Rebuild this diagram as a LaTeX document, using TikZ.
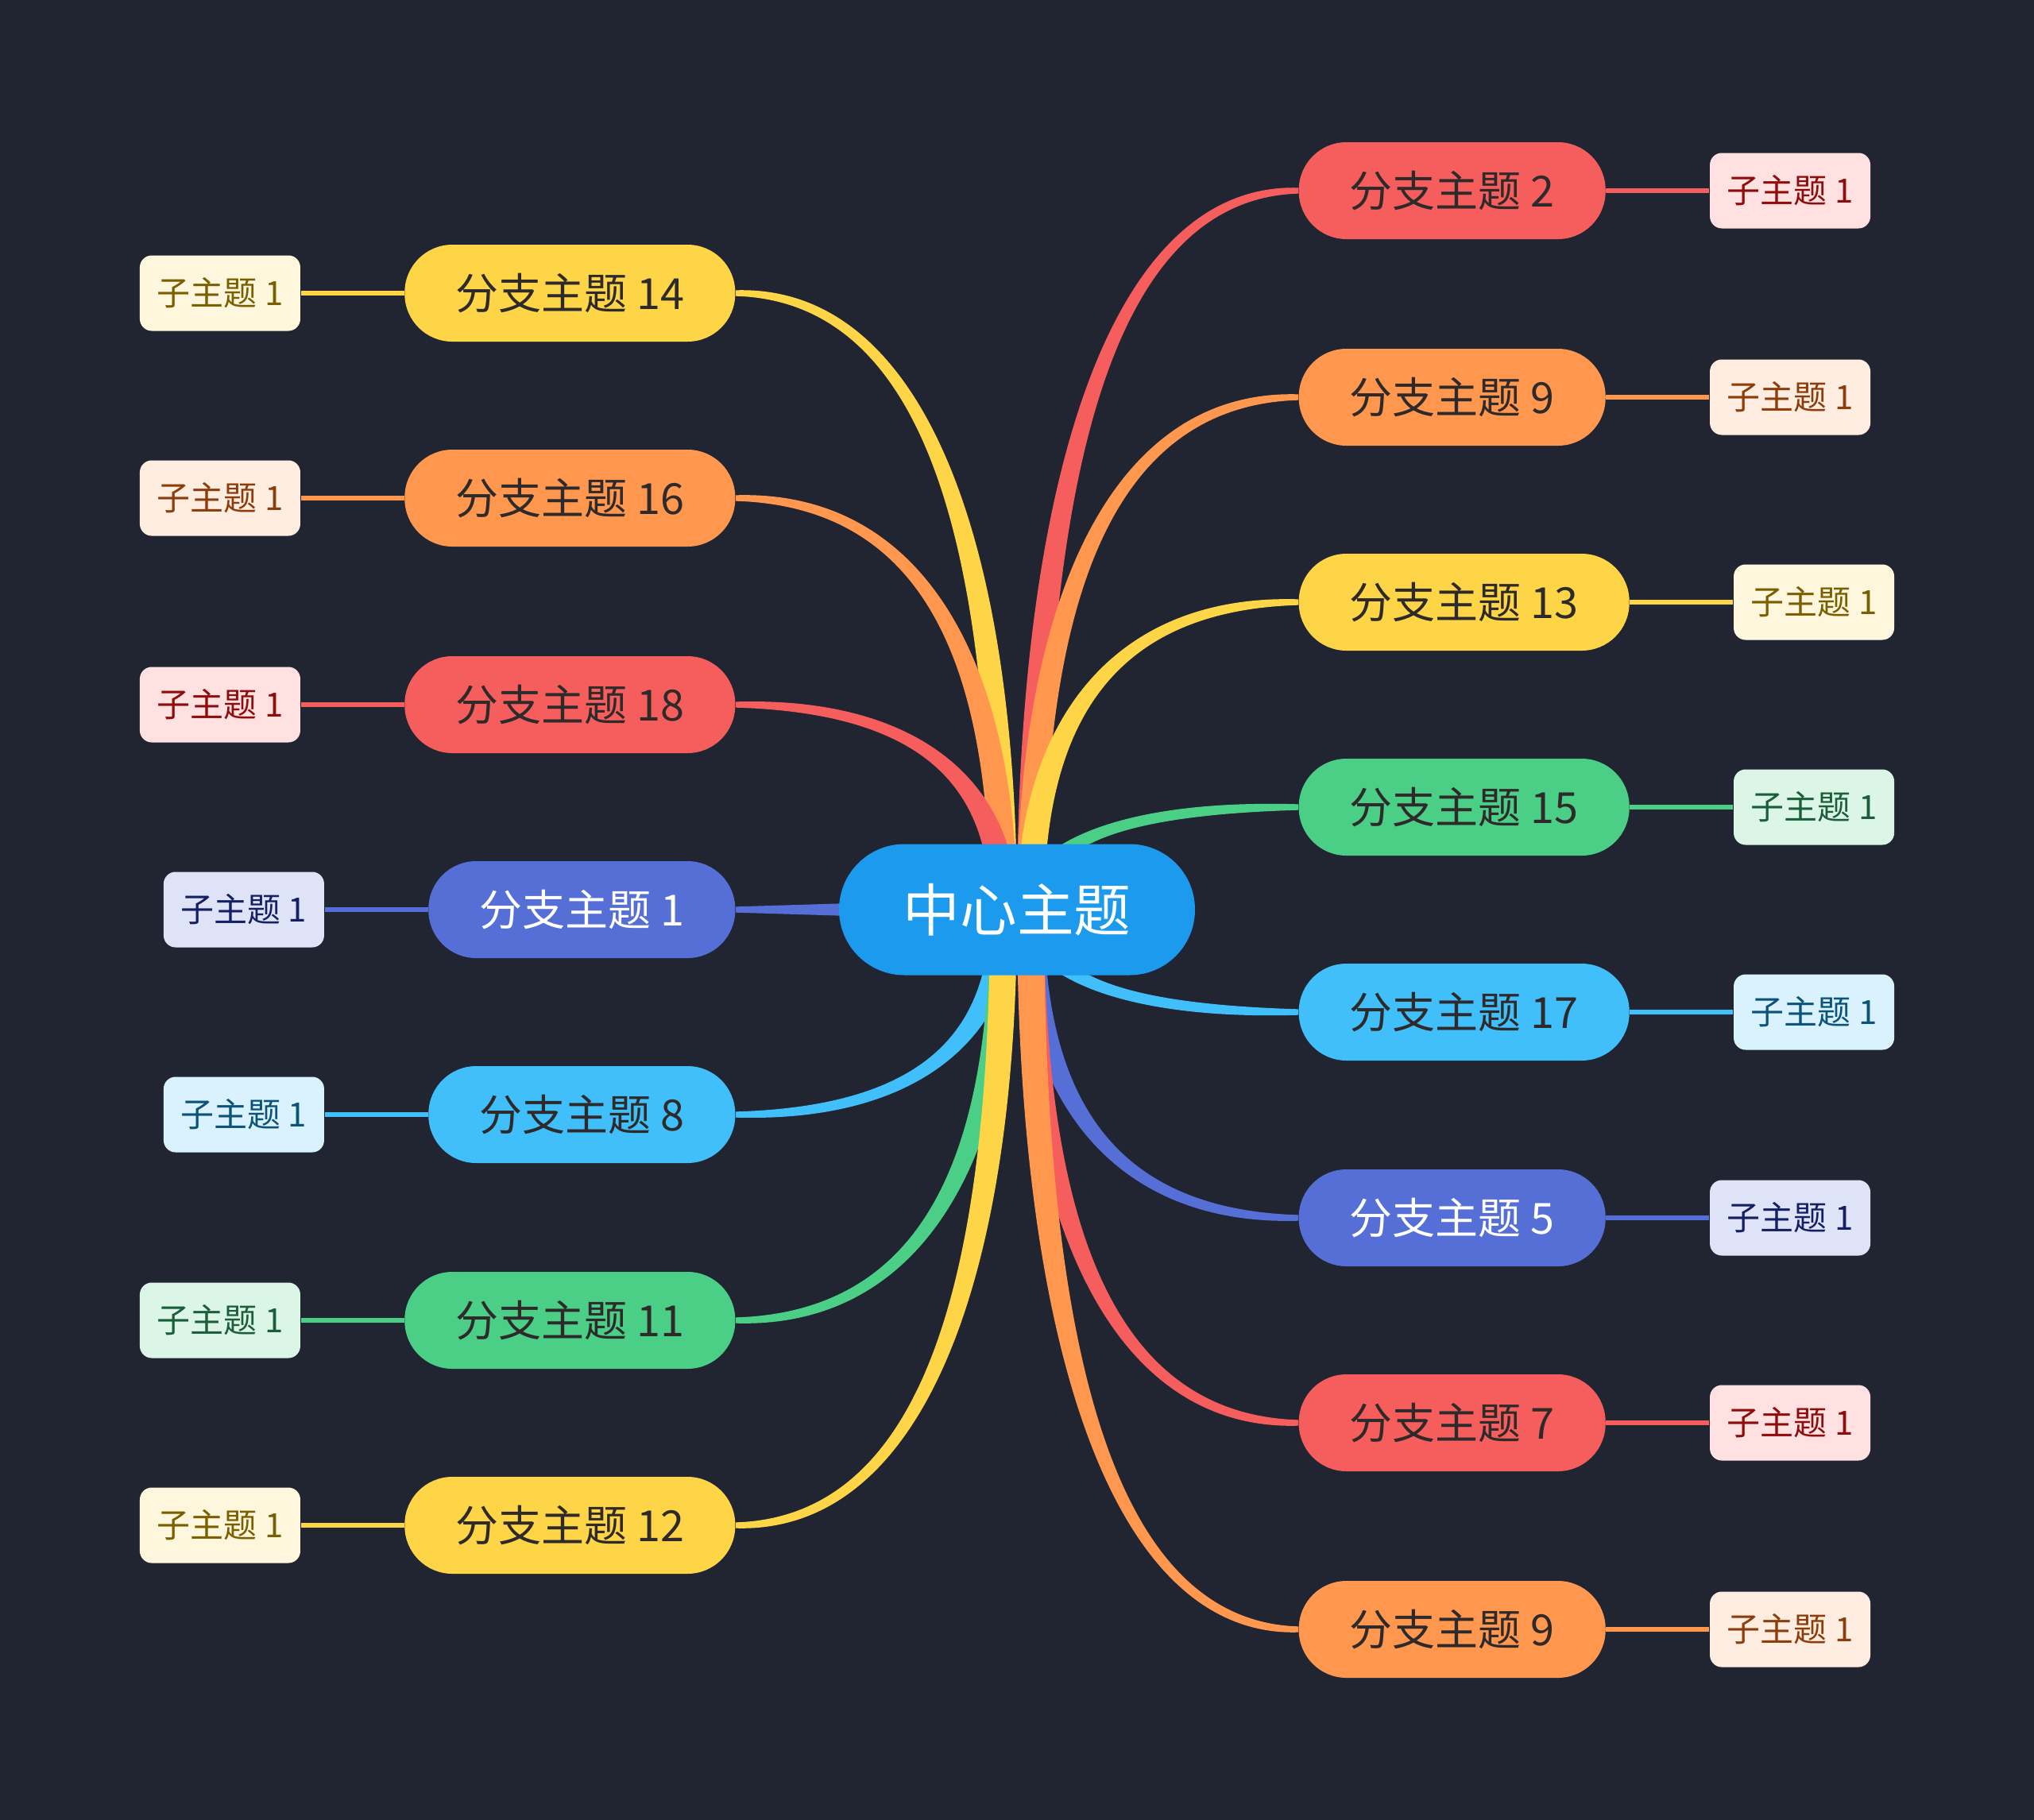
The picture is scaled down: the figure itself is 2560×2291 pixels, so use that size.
\documentclass[tikz,border=0pt]{standalone}
\usepackage{fontspec}
\newfontfamily\cjk{Noto Sans CJK SC}
\usetikzlibrary{calc}
\pgfdeclarelayer{bgl}
\pgfdeclarelayer{links}
\pgfsetlayers{bgl,links,main}
\definecolor{bg}{HTML}{212531}
\definecolor{cred}{HTML}{F65E5E}
\definecolor{corange}{HTML}{FF974F}
\definecolor{cyellow}{HTML}{FFD548}
\definecolor{cgreen}{HTML}{4BCF87}
\definecolor{cblue}{HTML}{40BFFB}
\definecolor{cindigo}{HTML}{566FD6}
\definecolor{ccenter}{HTML}{1B9AEE}
\definecolor{lred}{HTML}{FFE1E1}\definecolor{tred}{HTML}{8E0C0C}
\definecolor{lorange}{HTML}{FFEDE1}\definecolor{torange}{HTML}{8C3D0A}
\definecolor{lyellow}{HTML}{FFF7DD}\definecolor{tyellow}{HTML}{7A5F00}
\definecolor{lgreen}{HTML}{DBF5E7}\definecolor{tgreen}{HTML}{1B5E3A}
\definecolor{lblue}{HTML}{D9F2FE}\definecolor{tblue}{HTML}{0B5378}
\definecolor{lindigo}{HTML}{DFE3F7}\definecolor{tindigo}{HTML}{142065}
\definecolor{darktext}{HTML}{2E2A2A}
% #1 start, #2 end, #3 colour, #4 outer x offset, #5 outer y offset at end, #6 outer y offset at 2nd control
\newcommand\ribbon[6]{%
\fill[#3] ($(#1)+(#4,0)$) .. controls ($(#1)!0.6!(#1|-#2)+(#4,0)$) and ($(#1|-#2)!0.3!(#2)+(0,#6)$) .. ($(#2)+(0,#5)$)
 -- ($(#2)-(0,#5)$) .. controls ($(#1|-#2)!0.3!(#2)-(0,#6)$) and ($(#1)!0.6!(#1|-#2)-(#4,0)$) .. ($(#1)-(#4,0)$) -- cycle;}
\begin{document}
\begin{tikzpicture}[x=0.3pt,y=-0.3pt,
  branch/.style={rounded corners=18pt, minimum height=36.6pt, inner xsep=19.2pt, inner ysep=0pt,
    font=\cjk\fontsize{16.2pt}{19pt}\selectfont, text=darktext},
  sub/.style={rounded corners=4.5pt, minimum width=60.6pt, minimum height=28.5pt, inner sep=0pt,
    font=\cjk\fontsize{12.6pt}{15pt}\selectfont},
  link/.style={line width=1.8pt}]
\begin{pgfonlayer}{bgl}
\fill[bg] (0,0) rectangle (2560,2291);
\end{pgfonlayer}
\useasboundingbox (0,0) rectangle (2560,2291);

% centre
\node[fill=ccenter, rounded corners=24.7pt, minimum width=134.4pt, minimum height=49.5pt, inner sep=0pt,
  font=\cjk\fontsize{21.5pt}{25pt}\selectfont, text=white] (c) at (1280,1145) {中心主题};
\coordinate (sR) at ($(c.center)+(17,0)$);
\coordinate (sL) at ($(c.center)-(17,0)$);

% right branches
\node[branch, fill=cred, anchor=west] (r1) at (1634,240) {分支主题 2};
\node[branch, fill=corange, anchor=west] (r2) at (1634,500) {分支主题 9};
\node[branch, fill=cyellow, anchor=west] (r3) at (1634,758) {分支主题 13};
\node[branch, fill=cgreen, anchor=west] (r4) at (1634,1016) {分支主题 15};
\node[branch, fill=cblue, anchor=west] (r5) at (1634,1274) {分支主题 17};
\node[branch, fill=cindigo, text=white, anchor=west] (r6) at (1634,1533) {分支主题 5};
\node[branch, fill=cred, anchor=west] (r7) at (1634,1791) {分支主题 7};
\node[branch, fill=corange, anchor=west] (r8) at (1634,2051) {分支主题 9};

% left branches
\node[branch, fill=cyellow, anchor=east] (l1) at (926,369) {分支主题 14};
\node[branch, fill=corange, anchor=east] (l2) at (926,627) {分支主题 16};
\node[branch, fill=cred, anchor=east] (l3) at (926,887) {分支主题 18};
\node[branch, fill=cindigo, text=white, anchor=east] (l4) at (926,1145) {分支主题 1};
\node[branch, fill=cblue, anchor=east] (l5) at (926,1403) {分支主题 8};
\node[branch, fill=cgreen, anchor=east] (l6) at (926,1662) {分支主题 11};
\node[branch, fill=cyellow, anchor=east] (l7) at (926,1920) {分支主题 12};

% children right
\node[sub, fill=lred, text=tred, anchor=west] (r1c) at ($(r1.east)+(130,0)$) {子主题 1};
\node[sub, fill=lorange, text=torange, anchor=west] (r2c) at ($(r2.east)+(130,0)$) {子主题 1};
\node[sub, fill=lyellow, text=tyellow, anchor=west] (r3c) at ($(r3.east)+(130,0)$) {子主题 1};
\node[sub, fill=lgreen, text=tgreen, anchor=west] (r4c) at ($(r4.east)+(130,0)$) {子主题 1};
\node[sub, fill=lblue, text=tblue, anchor=west] (r5c) at ($(r5.east)+(130,0)$) {子主题 1};
\node[sub, fill=lindigo, text=tindigo, anchor=west] (r6c) at ($(r6.east)+(130,0)$) {子主题 1};
\node[sub, fill=lred, text=tred, anchor=west] (r7c) at ($(r7.east)+(130,0)$) {子主题 1};
\node[sub, fill=lorange, text=torange, anchor=west] (r8c) at ($(r8.east)+(130,0)$) {子主题 1};
% children left
\node[sub, fill=lyellow, text=tyellow, anchor=east] (l1c) at ($(l1.west)-(130,0)$) {子主题 1};
\node[sub, fill=lorange, text=torange, anchor=east] (l2c) at ($(l2.west)-(130,0)$) {子主题 1};
\node[sub, fill=lred, text=tred, anchor=east] (l3c) at ($(l3.west)-(130,0)$) {子主题 1};
\node[sub, fill=lindigo, text=tindigo, anchor=east] (l4c) at ($(l4.west)-(130,0)$) {子主题 1};
\node[sub, fill=lblue, text=tblue, anchor=east] (l5c) at ($(l5.west)-(130,0)$) {子主题 1};
\node[sub, fill=lgreen, text=tgreen, anchor=east] (l6c) at ($(l6.west)-(130,0)$) {子主题 1};
\node[sub, fill=lyellow, text=tyellow, anchor=east] (l7c) at ($(l7.west)-(130,0)$) {子主题 1};

% connectors (behind nodes)
\begin{pgfonlayer}{links}
% right: up
\ribbon{sR}{r1.west}{cred}{-5.1pt}{1.1pt}{3.2pt}
\ribbon{sR}{r2.west}{corange}{-5.1pt}{1.1pt}{3.2pt}
\ribbon{sR}{r3.west}{cyellow}{-5.1pt}{1.1pt}{3.2pt}
\ribbon{sR}{r4.west}{cgreen}{-5.1pt}{1.1pt}{3.2pt}
% right: down
\ribbon{sR}{r5.west}{cblue}{-5.1pt}{-1.1pt}{-3.2pt}
\ribbon{sR}{r6.west}{cindigo}{-5.1pt}{-1.1pt}{-3.2pt}
\ribbon{sR}{r7.west}{cred}{-5.1pt}{-1.1pt}{-3.2pt}
\ribbon{sR}{r8.west}{corange}{-5.1pt}{-1.1pt}{-3.2pt}
% left: up
\ribbon{sL}{l1.east}{cyellow}{5.1pt}{1.1pt}{3.2pt}
\ribbon{sL}{l2.east}{corange}{5.1pt}{1.1pt}{3.2pt}
\ribbon{sL}{l3.east}{cred}{5.1pt}{1.1pt}{3.2pt}
% left: straight
\fill[cindigo] ($(c.center)+(0,4.3pt)$) -- ($(l4.east)+(0,1.1pt)$) -- ($(l4.east)-(0,1.1pt)$) -- ($(c.center)-(0,4.3pt)$) -- cycle;
% left: down
\ribbon{sL}{l5.east}{cblue}{5.1pt}{-1.1pt}{-3.2pt}
\ribbon{sL}{l6.east}{cgreen}{5.1pt}{-1.1pt}{-3.2pt}
\ribbon{sL}{l7.east}{cyellow}{5.1pt}{-1.1pt}{-3.2pt}
% children links
\foreach \b/\col in {r1/cred,r2/corange,r3/cyellow,r4/cgreen,r5/cblue,r6/cindigo,r7/cred,r8/corange}
  \draw[link,\col] (\b.east) -- (\b c.west);
\foreach \b/\col in {l1/cyellow,l2/corange,l3/cred,l4/cindigo,l5/cblue,l6/cgreen,l7/cyellow}
  \draw[link,\col] (\b.west) -- (\b c.east);
\end{pgfonlayer}
\end{tikzpicture}
\end{document}
